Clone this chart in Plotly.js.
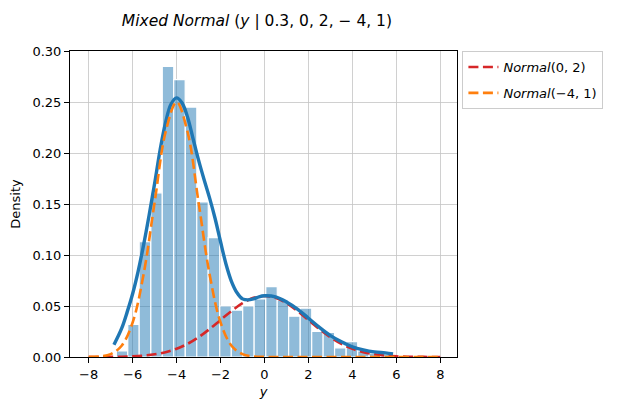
<!DOCTYPE html>
<html>
<head>
<meta charset="utf-8">
<script src="https://cdn.plot.ly/plotly-3.0.1.min.js"></script>
<style>
  html, body { margin: 0; padding: 0; background: #fff; }
  #chart { width: 620px; height: 412px; }
</style>
</head>
<body>
<div id="chart"></div>
<script>
// histogram bins (density)
const binCenters = [-6.48, -5.96, -5.44, -4.91, -4.39, -3.87, -3.34, -2.82, -2.30, -1.77, -1.25, -0.73,
                    -0.21, 0.32, 0.84, 1.36, 1.89, 2.41, 2.93, 3.45, 3.98, 4.50, 5.02, 5.55];
const binDensity = [0.006, 0.032, 0.113, 0.161, 0.285, 0.272, 0.245, 0.152, 0.117, 0.050, 0.046, 0.050,
                    0.057, 0.069, 0.056, 0.040, 0.048, 0.025, 0.024, 0.009, 0.015, 0.006, 0.004, 0.003];
const binWidth = 0.523;

// mixture density (solid blue)
const mixX = [-6.85, -6.5, -6.25, -6.0, -5.75, -5.5, -5.25, -5.0, -4.75, -4.5, -4.25, -4.0, -3.75, -3.5,
              -3.25, -3.0, -2.75, -2.5, -2.25, -2.0, -1.75, -1.5, -1.25, -1.0, -0.75, -0.5, -0.25, 0,
              0.5, 1, 1.5, 2, 2.5, 3, 3.5, 4, 4.5, 5, 5.5, 5.85];
const mixY = [0.012, 0.028, 0.044, 0.062, 0.084, 0.110, 0.139, 0.170, 0.203, 0.230, 0.248, 0.254, 0.249, 0.235,
              0.214, 0.193, 0.174, 0.156, 0.136, 0.113, 0.091, 0.074, 0.063, 0.057, 0.056, 0.057, 0.059, 0.060,
              0.059, 0.054, 0.047, 0.038, 0.029, 0.021, 0.015, 0.010, 0.007, 0.005, 0.004, 0.003];

// component curves (dashed)
const compX = [-8, -7.5, -7, -6.5, -6, -5.5, -5, -4.5, -4, -3.5, -3, -2.5, -2, -1.5, -1, -0.5, 0,
               0.5, 1, 1.5, 2, 2.5, 3, 3.5, 4, 4.5, 5, 5.5, 6, 6.5, 7, 7.5, 8];
const normA = [0.00002, 0.00005, 0.00013, 0.0003, 0.00066, 0.00136, 0.00263, 0.00476, 0.0081, 0.0129, 0.0194,
               0.0274, 0.0363, 0.0451, 0.0528, 0.058, 0.0598, 0.058, 0.0528, 0.0451, 0.0363, 0.0274, 0.0194,
               0.0129, 0.0081, 0.00476, 0.00263, 0.00136, 0.00066, 0.0003, 0.00013, 0.00005, 0.00002];
const normB = [0.00008, 0.00055, 0.0028, 0.011, 0.0338, 0.0812, 0.1516, 0.2206, 0.25, 0.2206, 0.1516, 0.0812,
               0.0338, 0.011, 0.0028, 0.00055, 0.00008, 0, 0, 0, 0, 0, 0, 0, 0, 0, 0, 0, 0, 0, 0, 0, 0];

const xTicks = [-8, -6, -4, -2, 0, 2, 4, 6, 8];

const data = [
  {
    type: 'bar',
    x: binCenters,
    y: binDensity,
    width: binWidth,
    marker: { color: 'rgba(31,119,180,0.5)', line: { color: '#ffffff', width: 1.2 } },
    showlegend: false,
    hoverinfo: 'skip'
  },
  {
    x: compX,
    y: normA,
    mode: 'lines',
    line: { color: '#d62728', width: 2.6, dash: '10px,4.5px', shape: 'spline' },
    name: '<i>Normal</i>(0, 2)',
    legendgroup: 'a'
  },
  {
    x: mixX,
    y: mixY,
    mode: 'lines',
    line: { color: '#1f77b4', width: 3.4, shape: 'spline' },
    showlegend: false
  },
  {
    x: compX,
    y: normB,
    mode: 'lines',
    line: { color: '#ff7f0e', width: 2.6, dash: '10px,4.5px', shape: 'spline' },
    name: '<i>Normal</i>(\u22124, 1)',
    legendgroup: 'b'
  }
];

const layout = {
  width: 620,
  height: 412,
  margin: { l: 70, r: 163, t: 51, b: 55 },
  paper_bgcolor: '#ffffff',
  plot_bgcolor: '#ffffff',
  font: { family: 'DejaVu Sans', size: 13, color: '#000000' },
  bargap: 0,
  title: {
    text: '<i>Mixed Normal</i> (<i>y</i> | 0.3, 0, 2, \u2212 4, 1)',
    font: { family: 'DejaVu Sans', size: 15.5, color: '#000000' },
    xref: 'paper',
    x: 0.483,
    xanchor: 'center',
    yref: 'container',
    y: 0.95,
    yanchor: 'middle'
  },
  xaxis: {
    range: [-8.85, 8.76],
    tickvals: xTicks,
    ticks: 'outside',
    ticklen: 5,
    tickcolor: '#000000',
    showline: true,
    mirror: true,
    linecolor: '#000000',
    linewidth: 1,
    showgrid: true,
    gridcolor: '#c4c4c4',
    gridwidth: 0.8,
    zeroline: false,
    title: { text: '<i>y</i>', standoff: 6, font: { size: 13 } }
  },
  yaxis: {
    range: [0, 0.30],
    dtick: 0.05,
    tickformat: '.2f',
    ticks: 'outside',
    ticklen: 5,
    tickcolor: '#000000',
    showline: true,
    mirror: true,
    linecolor: '#000000',
    linewidth: 1,
    showgrid: true,
    gridcolor: '#c4c4c4',
    gridwidth: 0.8,
    zeroline: false,
    title: { text: 'Density', standoff: 8, font: { size: 13 } }
  },
  legend: {
    x: 1.014,
    y: 1.0,
    xanchor: 'left',
    yanchor: 'top',
    bgcolor: '#ffffff',
    bordercolor: '#cccccc',
    borderwidth: 1,
    tracegroupgap: 6,
    font: { size: 13 }
  }
};

Plotly.newPlot('chart', data, layout, { displayModeBar: false, staticPlot: true });
</script>
</body>
</html>
